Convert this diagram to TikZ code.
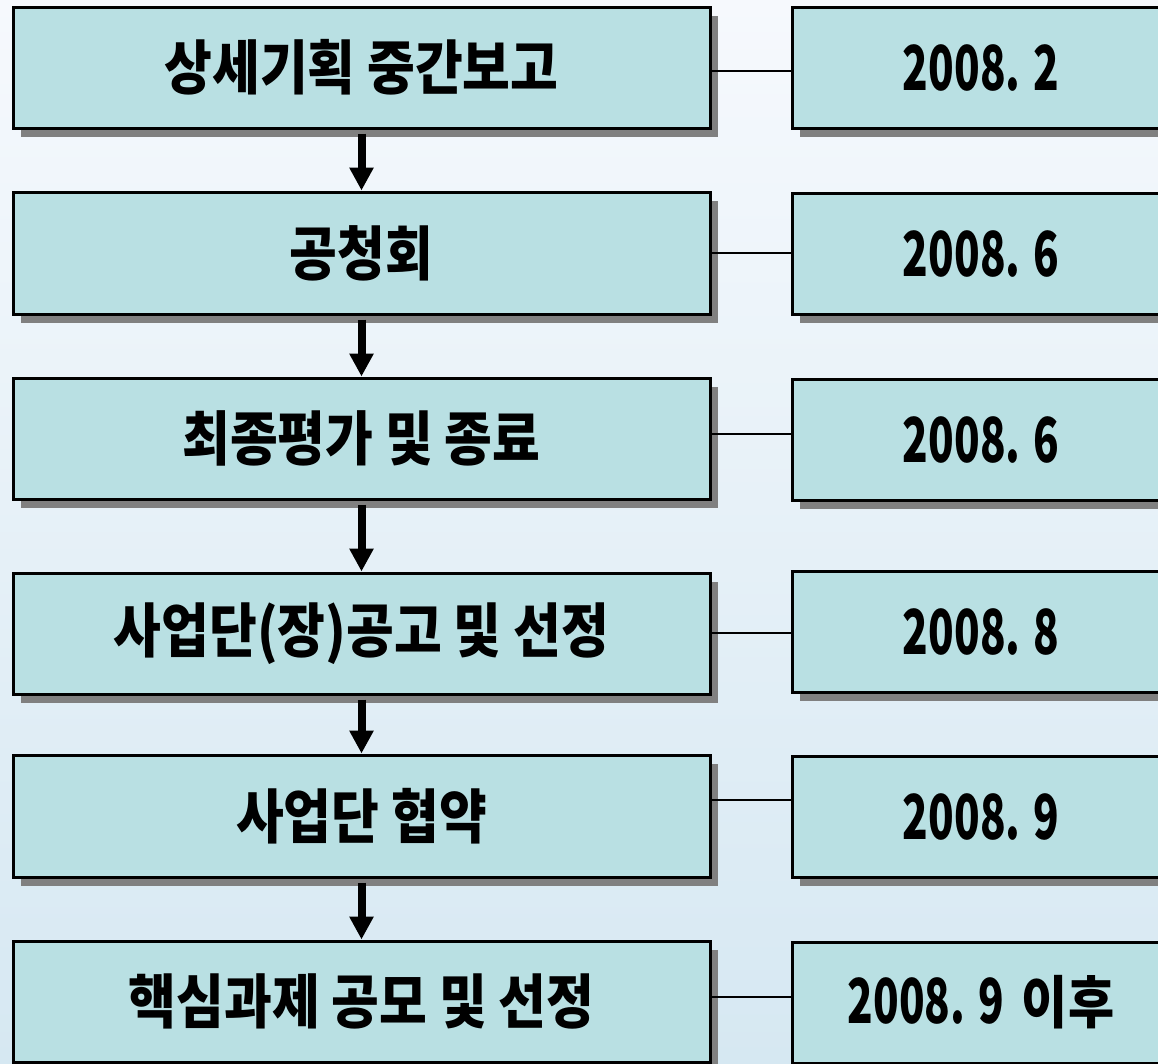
\documentclass[tikz,border=0pt]{standalone}
\usepackage{fontspec}
\usetikzlibrary{arrows.meta,shadows}
\newfontfamily\lfont{Noto Sans CJK KR}[FakeStretch=0.88]
\newfontfamily\dfont{Noto Sans CJK KR}[FakeStretch=0.68]
\definecolor{boxfill}{RGB}{185,224,227}
\definecolor{shadowgray}{RGB}{128,128,128}
\definecolor{bgtop}{RGB}{246,249,253}
\definecolor{bgbot}{RGB}{214,232,242}
\tikzset{
  stepbox/.style={draw=black, line width=3pt, fill=boxfill, inner sep=0pt,
    drop shadow={shadow xshift=8pt, shadow yshift=-9pt, fill=shadowgray, opacity=1}},
  leftbox/.style={stepbox, minimum width=697pt},
  datebox/.style={stepbox, minimum width=378pt},
  ltext/.style={font=\lfont\bfseries\fontsize{59}{66}\selectfont},
  dtext/.style={font=\dfont\bfseries\fontsize{62}{70}\selectfont},
  conn/.style={line width=2pt},
  flow/.style={line width=8pt, -{Triangle[width=23pt,length=23pt]}, shorten <=4pt}
}
\begin{document}
\begin{tikzpicture}[x=1pt,y=-1pt]
\useasboundingbox (0,0) rectangle (1158,1063);
\clip (0,0) rectangle (1158,1063);
\shade[top color=bgtop, bottom color=bgbot] (0,0) rectangle (1158,1063);
% left boxes
\node[leftbox, ltext, minimum height=121pt] (l1) at (361.5,67.5) {상세기획 중간보고};
\node[leftbox, ltext, minimum height=122pt] (l2) at (361.5,253) {공청회};
\node[leftbox, ltext, minimum height=121pt] (l3) at (361.5,438.5) {최종평가 및 종료};
\node[leftbox, ltext, minimum height=121pt] (l4) at (361.5,633.5) {사업단(장)공고 및 선정};
\node[leftbox, ltext, minimum height=122pt] (l5) at (361.5,816) {사업단 협약};
\node[leftbox, ltext, minimum height=121pt] (l6) at (361.5,1001.5) {핵심과제 공모 및 선정};
% right boxes
\node[datebox, dtext, minimum height=121pt] (r1) at (981,67.5) {2008. 2};
\node[datebox, dtext, minimum height=121pt] (r2) at (981,253.5) {2008. 6};
\node[datebox, dtext, minimum height=121pt] (r3) at (981,439.5) {2008. 6};
\node[datebox, dtext, minimum height=121pt] (r4) at (981,631.5) {2008. 8};
\node[datebox, dtext, minimum height=121pt] (r5) at (981,816.5) {2008. 9};
\node[datebox, dtext, minimum height=121pt] (r6) at (981,1002.5) {2008. 9\hspace{18pt}{\lfont\bfseries\fontsize{57}{64}\selectfont 이후}};
% connectors
\draw[conn] (l1.east |- 0,71) -- (r1.west |- 0,71);
\draw[conn] (l2.east |- 0,253) -- (r2.west |- 0,253);
\draw[conn] (l3.east |- 0,434) -- (r3.west |- 0,434);
\draw[conn] (l4.east |- 0,633) -- (r4.west |- 0,633);
\draw[conn] (l5.east |- 0,800) -- (r5.west |- 0,800);
\draw[conn] (l6.east |- 0,997) -- (r6.west |- 0,997);
% flow arrows
\draw[flow] (l1.south) -- (l2.north);
\draw[flow] (l2.south) -- (l3.north);
\draw[flow] (l3.south) -- (l4.north);
\draw[flow] (l4.south) -- (l5.north);
\draw[flow] (l5.south) -- (l6.north);
\end{tikzpicture}
\end{document}
